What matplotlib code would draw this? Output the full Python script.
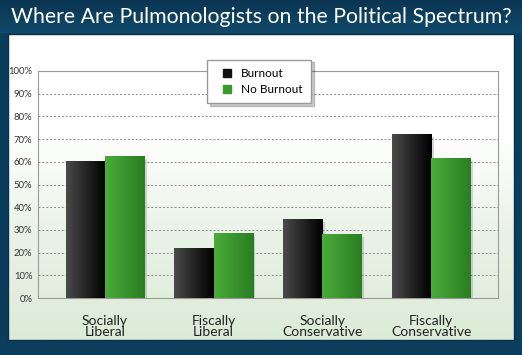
import numpy as np
import matplotlib.pyplot as plt
from matplotlib.patches import Rectangle
from matplotlib.lines import Line2D
from matplotlib.colors import LinearSegmentedColormap

# Dados
categorias = ['Socially\nLiberal', 'Fiscally\nLiberal', 'Socially\nConservative', 'Fiscally\nConservative']
burnout = [60, 22, 34.5, 72]
no_burnout = [62.5, 28.5, 28, 61.5]
ticks = [0, 10, 20, 30, 40, 50, 60, 70, 80, 90, 100]

W, H = 522, 355
fig = plt.figure(figsize=(W / 100, H / 100), dpi=100)
navy = '#0b3d5c'
fig.patch.set_facecolor(navy)

# Painel de fundo com gradiente
bg = fig.add_axes([0, 0, 1, 1])
bg.set_xlim(0, W)
bg.set_ylim(H, 0)
bg.axis('off')
grad = np.linspace(0, 1, 200).reshape(-1, 1)
bg.imshow(grad, extent=[8, 514, 340, 34], cmap=LinearSegmentedColormap.from_list(
    'g', ['#ffffff', '#ffffff', '#e9f2e6', '#dcebd8']), aspect='auto', zorder=1)
bg.add_patch(Rectangle((8, 34), 506, 306, fill=False, edgecolor='#0a2f47', lw=1, zorder=2))
tgrad = np.linspace(0, 1, 50).reshape(-1, 1)
bg.imshow(tgrad, extent=[0, W, 33, 0], cmap=LinearSegmentedColormap.from_list(
    't', ['#0a3552', '#114a6b']), aspect='auto', zorder=1)
bg.text(W / 2, 17, 'Where Are Pulmonologists on the Political Spectrum?', color='white',
        fontsize=15.3, family='Lato', ha='center', va='center', zorder=3)

# Gráfico
ax = fig.add_axes([38 / W, 1 - 298 / H, 460 / W, 227 / H])
ax.set_facecolor('none')
x = np.arange(len(categorias))
w = 0.36
sombra = dict(color='#000000', alpha=0.15, zorder=2)
ax.bar(x - w / 2 + 0.025, burnout, w, bottom=-1.2, **sombra)
ax.bar(x + w / 2 + 0.025, no_burnout, w, bottom=-1.2, **sombra)
b1 = ax.bar(x - w / 2, burnout, w, color='#1e1e1e', zorder=3)
b2 = ax.bar(x + w / 2, no_burnout, w, color='#3a9a2c', zorder=3)

# Gradiente horizontal nas barras
for barras, cores in [(b1, ['#4a4a4a', '#000000']), (b2, ['#4aab3a', '#2a7e22'])]:
    cm = LinearSegmentedColormap.from_list('b', cores)
    for b in barras:
        x0, y0 = b.get_x(), b.get_y()
        ax.imshow(np.linspace(0, 1, 50).reshape(1, -1), extent=[x0, x0 + b.get_width(), y0, y0 + b.get_height()],
                  cmap=cm, aspect='auto', zorder=3.5)

ax.set_xlim(-0.615, 3.615)
ax.set_ylim(0, 100)
ax.set_yticks(ticks)
ax.set_yticklabels([f'{t}%' for t in ticks], family='Lato')
ax.set_xticks(x)
ax.set_xticklabels(categorias, fontsize=10, family='Lato', color='#222222', linespacing=0.95)
ax.tick_params(axis='y', length=0, labelsize=6.8, colors='#333333', pad=4)
ax.tick_params(axis='x', length=0, pad=12)
for s in ax.spines.values():
    s.set_color('#9a9a9a')
ax.yaxis.grid(True, linestyle=(0, (2, 2)), color='#8a8a8a', lw=0.7)
ax.set_axisbelow(True)

# Legenda
handles = [Line2D([], [], marker='s', ls='', color='#111111', markersize=6),
           Line2D([], [], marker='s', ls='', color='#3a9a2c', markersize=6)]
leg = ax.legend(handles, ['Burnout', 'No Burnout'], loc='upper left', bbox_to_anchor=(0.367, 1.05),
                frameon=True, fancybox=False, shadow={'color': '#000000', 'alpha': 0.2},
                fontsize=8, handletextpad=0.2, prop={'family': 'Lato', 'size': 8.5},
                borderpad=0.7, labelspacing=0.4, borderaxespad=0)
leg.get_frame().set_edgecolor('#999999')
leg.set_zorder(5)

fig.savefig('out.png', dpi=100, facecolor=navy)
